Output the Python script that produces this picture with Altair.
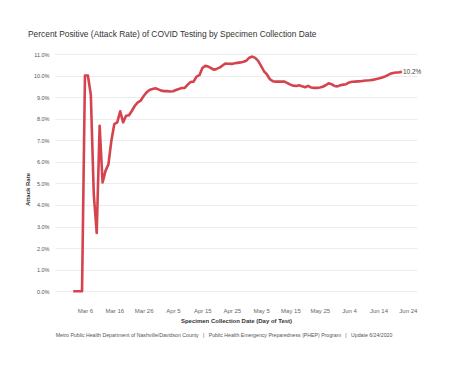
import altair as alt
import pandas as pd

# ---- data ----
start_date = "2020-03-02"
rates = [
    0, 0, 0, 0,
    10.0, 10.0, 9.1, 4.5, 2.7, 7.67, 5.04, 5.58, 5.89, 6.98,
    7.75, 7.83, 8.34, 7.83, 8.14, 8.16, 8.37, 8.6, 8.76, 8.84,
    9.05, 9.22, 9.33, 9.38, 9.41, 9.36, 9.30, 9.28, 9.28, 9.26,
    9.27, 9.33, 9.38, 9.42, 9.43, 9.58, 9.70, 9.72, 9.95, 10.02,
    10.35, 10.45, 10.42, 10.34, 10.27, 10.32, 10.38, 10.48, 10.56, 10.55,
    10.54, 10.57, 10.59, 10.61, 10.64, 10.69, 10.83, 10.88, 10.82, 10.68,
    10.45, 10.2, 10.05, 9.83, 9.74, 9.72, 9.72, 9.72, 9.72, 9.65,
    9.58, 9.53, 9.52, 9.55, 9.5, 9.46, 9.52, 9.45, 9.43, 9.43,
    9.45, 9.48, 9.55, 9.64, 9.6, 9.52, 9.5, 9.55, 9.58, 9.6,
    9.68, 9.71, 9.72, 9.73, 9.74, 9.76, 9.77, 9.78, 9.8, 9.83,
    9.86, 9.9, 9.94, 10.01, 10.08, 10.12, 10.14, 10.15, 10.17,
]
dates = pd.date_range(start_date, periods=len(rates), freq="D")

x_tick_dates = [(3, 6), (3, 16), (3, 26), (4, 5), (4, 15), (4, 25),
                (5, 5), (5, 15), (5, 25), (6, 4), (6, 14), (6, 24)]
y_ticks = list(range(0, 12))

title_text = "Percent Positive (Attack Rate) of COVID Testing by Specimen Collection Date"
x_title = "Specimen Collection Date (Day of Test)"
y_title = "Attack Rate"
SEP = "\u00a0\u00a0\u00a0|\u00a0\u00a0\u00a0"
footer_text = ("Metro Public Health Department of Nashville/Davidson County" + SEP +
               "Public Health Emergency Preparedness (PHEP) Program" + SEP +
               "Update 6/24/2020")

df = pd.DataFrame({"date": dates.strftime("%Y-%m-%dT00:00:00"), "rate": rates})
last_df = df.tail(1)
footer_df = pd.DataFrame({"t": [footer_text]})

FONT = "Liberation Sans"
RED = "#d5444e"

x_scale = alt.Scale(domain=[alt.DateTime(year=2020, month=2, date=24, hours=19),
                            alt.DateTime(year=2020, month=6, date=27, hours=3)])
y_scale = alt.Scale(domain=[-0.5, 11], nice=False, zero=False)

x_enc = alt.X("date:T", scale=x_scale,
              axis=alt.Axis(values=[alt.DateTime(year=2020, month=m, date=d) for m, d in x_tick_dates],
                            tickCount=30,
                            format="%b %-d", grid=False, domain=False, ticks=False,
                            labelOverlap=False, labelBound=False,
                            labelFont=FONT, labelFontSize=6, labelColor="#666",
                            labelPadding=5, title=x_title, titleFont=FONT,
                            titleFontSize=6, titleFontWeight="bold", titleColor="#333",
                            titlePadding=4))
y_enc = alt.Y("rate:Q", scale=y_scale,
              axis=alt.Axis(values=y_ticks, tickCount=30,
                            labelExpr="format(datum.value, '.1f') + '%'",
                            labelOverlap=False, labelBound=False,
                            grid=True, gridColor="#ececec", gridWidth=1,
                            domain=False, ticks=False, labelFont=FONT, labelFontSize=5.5,
                            labelColor="#555", labelPadding=6, title=y_title,
                            titleFont=FONT, titleFontSize=6, titleFontWeight="bold",
                            titleColor="#333", titleY=135, titleX=-25))

line = alt.Chart(df).mark_line(color=RED, strokeWidth=2.6, strokeJoin="round").encode(
    x=x_enc, y=y_enc)

end_label = alt.Chart(last_df).transform_calculate(
    lbl="format(datum.rate, '.1f') + '%'"
).mark_text(
    align="left", baseline="middle", dx=1, font=FONT, fontSize=6.5, color="#444"
).encode(x="date:T", y="rate:Q", text="lbl:N")

footer = alt.Chart(footer_df).mark_text(
    align="center", baseline="middle", font=FONT, fontSize=5.2, color="#555"
).encode(x=alt.value(169), y=alt.value(281), text="t:N")

chart = alt.layer(line, end_label, footer).properties(
    width=362, height=248,
    title=alt.TitleParams(text=title_text, anchor="start", frame="group", dx=-27,
                          offset=14, font=FONT, fontSize=8.4, fontWeight="normal",
                          color="#333"),
    autosize=alt.AutoSizeParams(type="none"),
    padding={"left": 47, "top": 46, "right": 45, "bottom": 50},
).configure_view(stroke=None)

chart.save("out.html", embed_options={"renderer": "svg", "actions": False})
